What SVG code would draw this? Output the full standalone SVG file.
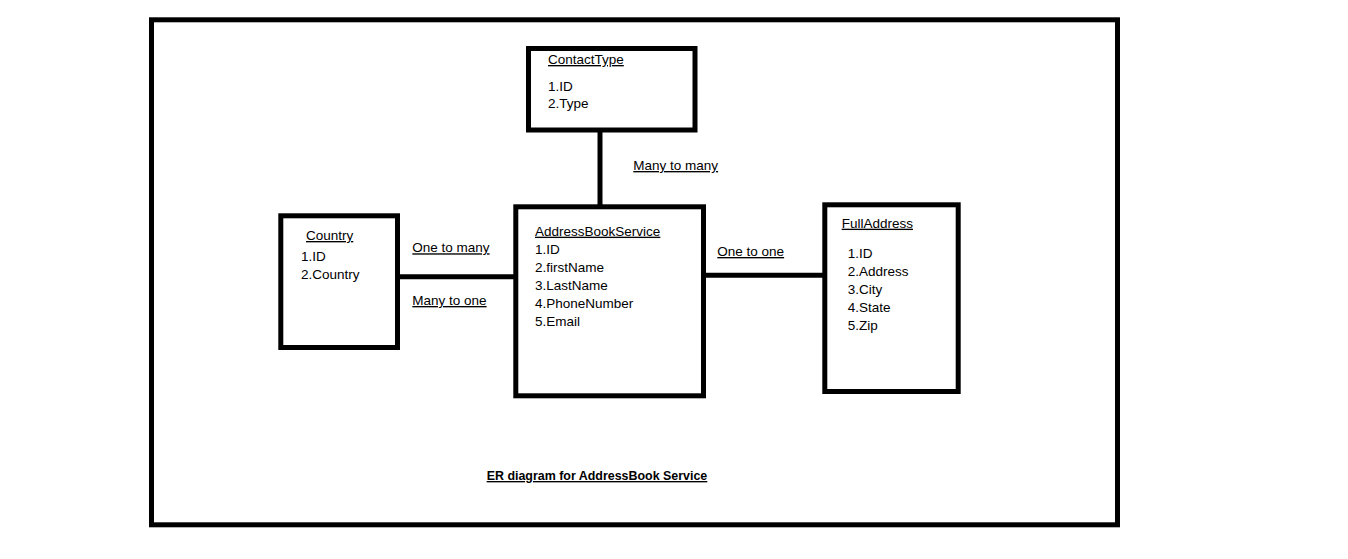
<svg xmlns="http://www.w3.org/2000/svg" width="1348" height="559" viewBox="0 0 1348 559">
<style>
.box{fill:none;stroke:#000;stroke-width:5}
.ln{stroke:#000;stroke-width:5;fill:none}
text{font-family:"Liberation Sans",Arial,sans-serif;font-size:13.5px;fill:#000}
.u{text-decoration:underline}
.b{font-weight:bold}
</style>
<rect width="1348" height="559" fill="#fff"/>
<rect id="frame" class="box" x="151.5" y="19.8" width="966" height="505"/>
<g id="connectors">
<line class="ln" x1="600" y1="130" x2="600" y2="207"/>
<line class="ln" x1="397.5" y1="276.7" x2="518" y2="276.7"/>
<line class="ln" x1="703.5" y1="275.2" x2="825" y2="275.2"/>
<text class="u" x="633.3" y="170">Many to many</text>
<text class="u" x="412.3" y="252.3">One to many</text>
<text class="u" x="412.3" y="305">Many to one</text>
<text class="u" x="717.3" y="256">One to one</text>
</g>
<g id="ContactType">
<rect class="box" x="528.5" y="48.5" width="166.5" height="81.5"/>
<text class="u" x="548" y="64">ContactType</text>
<text x="548" y="90.7">1.ID</text>
<text x="548" y="108.3">2.Type</text>
</g>
<g id="Country">
<rect class="box" x="280.8" y="215.8" width="116.7" height="131.7"/>
<text class="u" x="306" y="240">Country</text>
<text x="301" y="261">1.ID</text>
<text x="301" y="279">2.Country</text>
</g>
<g id="AddressBookService">
<rect class="box" x="515.8" y="206.8" width="187.7" height="189"/>
<text class="u" x="535" y="235.7">AddressBookService</text>
<text x="535" y="254">1.ID</text>
<text x="535" y="272">2.firstName</text>
<text x="535" y="290">3.LastName</text>
<text x="535" y="308">4.PhoneNumber</text>
<text x="535" y="326">5.Email</text>
</g>
<g id="FullAddress">
<rect class="box" x="824.8" y="204.8" width="133.4" height="186.7"/>
<text class="u" x="841.7" y="227.7">FullAddress</text>
<text x="847.7" y="258.3">1.ID</text>
<text x="847.7" y="276.3">2.Address</text>
<text x="847.7" y="294.3">3.City</text>
<text x="847.7" y="312.3">4.State</text>
<text x="847.7" y="330.3">5.Zip</text>
</g>
<text class="u b" x="486.7" y="480" textLength="220.6" lengthAdjust="spacingAndGlyphs">ER diagram for AddressBook Service</text>
</svg>
